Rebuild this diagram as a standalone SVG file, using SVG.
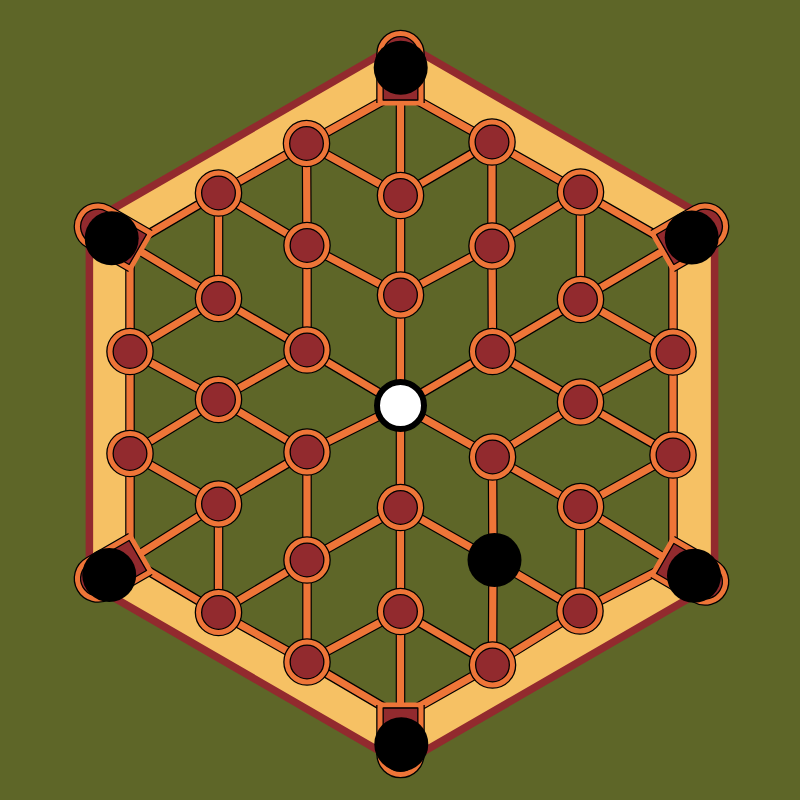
<svg xmlns="http://www.w3.org/2000/svg" xmlns:xlink="http://www.w3.org/1999/xlink" width="800" height="800" viewBox="0 0 800 800">
<style>
.bg{fill:#5E6628}
.outer{fill:#F6C164;stroke:#922A2E;stroke-width:7.5;stroke-linejoin:miter}
.inner{fill:#5E6628;stroke:none}
.piece{fill:#000}
.king{fill:#fff;stroke:#000;stroke-width:6}
</style>
<defs>
<g id="spot">
<circle r="20" fill="#922A2E" stroke="#000" stroke-width="7.6"/>
<circle r="20" fill="none" stroke="#EE7538" stroke-width="5"/>
</g>
<g id="pocket">
<path d="M-20.5,12 V-37 A20.5,20.5 0 0 1 20.5,-37 V12" fill="#922A2E" stroke="#000" stroke-width="7.6"/>
<path d="M-20.5,12 V-37 A20.5,20.5 0 0 1 20.5,-37 V12 Z" fill="none" stroke="#EE7538" stroke-width="5"/>
<line x1="-17.3" y1="9" x2="17.3" y2="9" stroke="#000" stroke-width="1.3"/>
</g>
</defs>
<rect class="bg" x="0" y="0" width="800" height="800"/>
<g id="board">
<polygon class="outer" points="402,42 714.6,222.5 714.6,583.5 402,764 89.4,583.5 89.4,222.5"/>
<polygon class="inner" points="400.5,91 673,245 673,563 400.5,717 130,560 130,245"/>
</g>
<use xlink:href="#connectors" href="#connectors" stroke="#000" stroke-width="9.6" stroke-linecap="round"/>
<g stroke="#EE7538" stroke-width="7.2" stroke-linecap="round">
<g id="connectors">
<line x1="400.5" y1="91" x2="306.5" y2="143.5"/>
<line x1="400.5" y1="91" x2="400.5" y2="195.5"/>
<line x1="400.5" y1="91" x2="492" y2="142"/>
<line x1="306.5" y1="143.5" x2="218.5" y2="193"/>
<line x1="306.5" y1="143.5" x2="307" y2="245.5"/>
<line x1="306.5" y1="143.5" x2="400.5" y2="195.5"/>
<line x1="218.5" y1="193" x2="130" y2="245"/>
<line x1="218.5" y1="193" x2="307" y2="245.5"/>
<line x1="218.5" y1="193" x2="218.5" y2="298.5"/>
<line x1="400.5" y1="195.5" x2="400.5" y2="295"/>
<line x1="400.5" y1="195.5" x2="492" y2="142"/>
<line x1="307" y1="245.5" x2="307" y2="350"/>
<line x1="307" y1="245.5" x2="400.5" y2="295"/>
<line x1="400.5" y1="295" x2="400.5" y2="405.5"/>
<line x1="400.5" y1="295" x2="492" y2="246"/>
<line x1="218.5" y1="298.5" x2="130" y2="245"/>
<line x1="218.5" y1="298.5" x2="130" y2="351.5"/>
<line x1="218.5" y1="298.5" x2="307" y2="350"/>
<line x1="130" y1="351.5" x2="130" y2="245"/>
<line x1="130" y1="351.5" x2="130" y2="453.5"/>
<line x1="130" y1="351.5" x2="218.5" y2="399.5"/>
<line x1="307" y1="350" x2="218.5" y2="399.5"/>
<line x1="307" y1="350" x2="400.5" y2="405.5"/>
<line x1="218.5" y1="399.5" x2="130" y2="453.5"/>
<line x1="218.5" y1="399.5" x2="307" y2="452"/>
<line x1="130" y1="453.5" x2="130" y2="560"/>
<line x1="130" y1="453.5" x2="218.5" y2="504"/>
<line x1="307" y1="452" x2="400.5" y2="405.5"/>
<line x1="307" y1="452" x2="218.5" y2="504"/>
<line x1="307" y1="452" x2="307" y2="560"/>
<line x1="218.5" y1="504" x2="218.5" y2="612.5"/>
<line x1="218.5" y1="504" x2="130" y2="560"/>
<line x1="307" y1="560" x2="400.5" y2="507.5"/>
<line x1="307" y1="560" x2="218.5" y2="612.5"/>
<line x1="307" y1="560" x2="307" y2="662"/>
<line x1="218.5" y1="612.5" x2="130" y2="560"/>
<line x1="218.5" y1="612.5" x2="307" y2="662"/>
<line x1="400.5" y1="611.5" x2="400.5" y2="507.5"/>
<line x1="400.5" y1="611.5" x2="307" y2="662"/>
<line x1="400.5" y1="611.5" x2="492.5" y2="665"/>
<line x1="400.5" y1="611.5" x2="400.5" y2="717"/>
<line x1="307" y1="662" x2="400.5" y2="717"/>
<line x1="400.5" y1="507.5" x2="400.5" y2="405.5"/>
<line x1="400.5" y1="507.5" x2="493" y2="560"/>
<line x1="492" y1="142" x2="580.5" y2="192"/>
<line x1="492" y1="142" x2="492" y2="246"/>
<line x1="580.5" y1="192" x2="673" y2="245"/>
<line x1="580.5" y1="192" x2="492" y2="246"/>
<line x1="580.5" y1="192" x2="580.5" y2="299.5"/>
<line x1="492" y1="246" x2="492.5" y2="351.5"/>
<line x1="580.5" y1="299.5" x2="673" y2="245"/>
<line x1="580.5" y1="299.5" x2="673" y2="352"/>
<line x1="580.5" y1="299.5" x2="492.5" y2="351.5"/>
<line x1="673" y1="352" x2="673" y2="245"/>
<line x1="673" y1="352" x2="673" y2="455"/>
<line x1="673" y1="352" x2="580.5" y2="402"/>
<line x1="492.5" y1="351.5" x2="580.5" y2="402"/>
<line x1="492.5" y1="351.5" x2="400.5" y2="405.5"/>
<line x1="580.5" y1="402" x2="673" y2="455"/>
<line x1="580.5" y1="402" x2="492.5" y2="457"/>
<line x1="673" y1="455" x2="673" y2="563"/>
<line x1="673" y1="455" x2="580.5" y2="506.5"/>
<line x1="492.5" y1="457" x2="400.5" y2="405.5"/>
<line x1="492.5" y1="457" x2="580.5" y2="506.5"/>
<line x1="492.5" y1="457" x2="493" y2="560"/>
<line x1="580.5" y1="506.5" x2="580" y2="611"/>
<line x1="580.5" y1="506.5" x2="673" y2="563"/>
<line x1="493" y1="560" x2="580" y2="611"/>
<line x1="493" y1="560" x2="492.5" y2="665"/>
<line x1="580" y1="611" x2="673" y2="563"/>
<line x1="580" y1="611" x2="492.5" y2="665"/>
<line x1="492.5" y1="665" x2="400.5" y2="717"/>
</g>
</g>
<g id="pockets">
<g id="pocket-top"><use href="#pocket" transform="translate(400.5,91)"/></g>
<g id="pocket-upper-right"><use href="#pocket" transform="translate(673,245) rotate(60)"/></g>
<g id="pocket-lower-right"><use href="#pocket" transform="translate(673,563) rotate(120)"/></g>
<g id="pocket-bottom"><use href="#pocket" transform="translate(400.5,717) rotate(180)"/></g>
<g id="pocket-lower-left"><use href="#pocket" transform="translate(130,560) rotate(240)"/></g>
<g id="pocket-upper-left"><use href="#pocket" transform="translate(130,245) rotate(300)"/></g>
</g>
<g id="nodes">
<g id="n1"><use href="#spot" x="306.5" y="143.5"/></g>
<g id="n2"><use href="#spot" x="492" y="142"/></g>
<g id="n3"><use href="#spot" x="218.5" y="193"/></g>
<g id="n4"><use href="#spot" x="400.5" y="195.5"/></g>
<g id="n5"><use href="#spot" x="580.5" y="192"/></g>
<g id="n6"><use href="#spot" x="307" y="245.5"/></g>
<g id="n7"><use href="#spot" x="492" y="246"/></g>
<g id="n8"><use href="#spot" x="400.5" y="295"/></g>
<g id="n9"><use href="#spot" x="218.5" y="298.5"/></g>
<g id="n10"><use href="#spot" x="580.5" y="299.5"/></g>
<g id="n11"><use href="#spot" x="130" y="351.5"/></g>
<g id="n12"><use href="#spot" x="307" y="350"/></g>
<g id="n13"><use href="#spot" x="492.5" y="351.5"/></g>
<g id="n14"><use href="#spot" x="673" y="352"/></g>
<g id="n15"><use href="#spot" x="218.5" y="399.5"/></g>
<g id="n16"><use href="#spot" x="580.5" y="402"/></g>
<g id="n17"><use href="#spot" x="400.5" y="405.5"/></g>
<g id="n18"><use href="#spot" x="130" y="453.5"/></g>
<g id="n19"><use href="#spot" x="307" y="452"/></g>
<g id="n20"><use href="#spot" x="492.5" y="457"/></g>
<g id="n21"><use href="#spot" x="673" y="455"/></g>
<g id="n22"><use href="#spot" x="218.5" y="504"/></g>
<g id="n23"><use href="#spot" x="400.5" y="507.5"/></g>
<g id="n24"><use href="#spot" x="580.5" y="506.5"/></g>
<g id="n25"><use href="#spot" x="307" y="560"/></g>
<g id="n26"><use href="#spot" x="493" y="560"/></g>
<g id="n27"><use href="#spot" x="218.5" y="612.5"/></g>
<g id="n28"><use href="#spot" x="400.5" y="611.5"/></g>
<g id="n29"><use href="#spot" x="580" y="611"/></g>
<g id="n30"><use href="#spot" x="307" y="662"/></g>
<g id="n31"><use href="#spot" x="492.5" y="665"/></g>
</g>
<g id="pieces">
<circle id="king" class="king" cx="400.5" cy="405.5" r="23.5"/>
<circle id="p-top" class="piece" cx="400.7" cy="67.7" r="27"/>
<circle id="p-ur" class="piece" cx="691.7" cy="237.5" r="27"/>
<circle id="p-lr" class="piece" cx="694" cy="575.8" r="27"/>
<circle id="p-bottom" class="piece" cx="401.3" cy="744.2" r="27"/>
<circle id="p-ll" class="piece" cx="109.2" cy="575" r="27"/>
<circle id="p-ul" class="piece" cx="111.7" cy="238.3" r="27"/>
<circle id="p-n26" class="piece" cx="494.5" cy="560" r="27"/>
</g>
</svg>
